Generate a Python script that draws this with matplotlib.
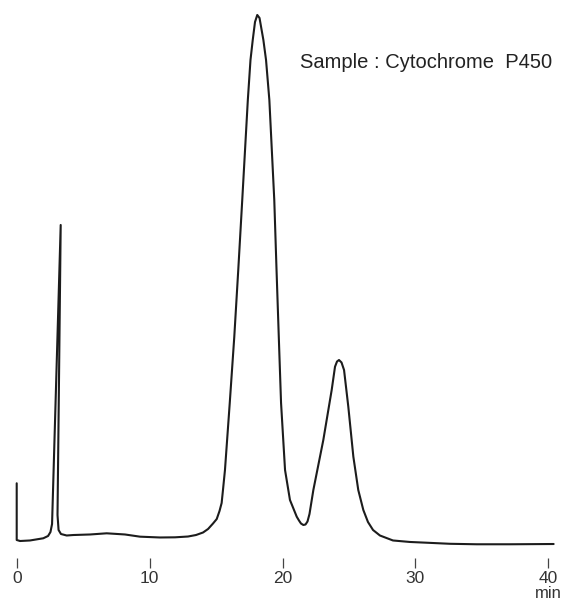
import matplotlib
matplotlib.use("Agg")
import matplotlib.pyplot as plt

# Chromatogram trace: retention time (min) and detector response (% of main peak)
time_min = [0.0, 0.0, 0.25, 1.0, 2.0, 2.36, 2.54, 2.66, 3.31, 3.07, 3.15, 3.33, 3.76,
            4.26, 5.52, 6.77, 8.15, 9.28, 10.78, 11.91, 12.89, 13.49, 14.02, 14.40,
            14.77, 15.05, 15.26, 15.42, 15.52, 15.67, 16.03, 16.37, 16.67, 16.97,
            17.39, 17.59, 17.76, 17.93, 18.10, 18.27, 18.56, 18.76, 19.01, 19.38,
            19.55, 19.72, 19.89, 20.19, 20.56, 21.07, 21.24, 21.39, 21.57, 21.73,
            21.88, 22.03, 22.32, 23.07, 23.70, 23.95, 24.10, 24.25, 24.44, 24.63,
            24.95, 25.33, 25.70, 26.08, 26.43, 26.81, 27.33, 28.31, 29.59, 30.85,
            32.60, 34.61, 37.11, 40.40]
response = [12.47, 1.87, 1.68, 1.78, 2.19, 2.62, 3.36, 4.86, 60.75, 6.54, 3.74, 2.99,
            2.71, 2.80, 2.90, 3.12, 2.90, 2.49, 2.34, 2.37, 2.52, 2.80, 3.27, 3.93,
            4.95, 5.79, 7.29, 8.79, 11.21, 14.95, 27.48, 39.81, 52.34, 65.42, 84.11,
            91.59, 95.33, 98.69, 100.0, 99.44, 95.33, 91.59, 84.11, 65.42, 52.34,
            39.81, 27.48, 14.95, 9.35, 6.22, 5.51, 4.95, 4.67, 4.77, 5.33, 6.73,
            11.21, 20.56, 29.91, 34.26, 35.23, 35.51, 35.05, 33.64, 26.79, 17.44,
            11.21, 7.48, 5.23, 3.74, 2.71, 1.78, 1.50, 1.36, 1.16, 1.07, 1.07, 1.12]

tick_values = [0, 10, 20, 30, 40]
tick_labels = ["0", "10", "20", "30", "40"]
unit_label = "min"
sample_label = "Sample : Cytochrome  P450"

plt.rcParams['font.family'] = ['Liberation Sans', 'DejaVu Sans']

fig = plt.figure(figsize=(5.66, 6.01), dpi=100)
ax = fig.add_axes([0, 0, 1, 1])
ax.set_xlim(-1.257, 41.33)
ax.set_ylim(-9.533, 102.8)

ax.plot(time_min, response, color='#1c1c1c', lw=1.5,
        solid_joinstyle='round', solid_capstyle='round')

for s in ['left', 'right', 'top']:
    ax.spines[s].set_visible(False)
ax.spines['bottom'].set_position(('data', -1.5))
ax.spines['bottom'].set_color('none')
ax.set_yticks([])
ax.set_xticks(tick_values)
ax.set_xticklabels(tick_labels)
ax.tick_params(axis='x', direction='out', length=7.2, width=0.9, color='#444444',
               pad=2.5, labelsize=12.5, labelcolor='#333333')

ax.text(40, -9.45, unit_label, ha='center', va='bottom', fontsize=12, color='#333333')
ax.text(21.32, 90.0, sample_label, ha='left', va='baseline', fontsize=14.5,
        color='#222222')

fig.savefig("out.png", dpi=100)
